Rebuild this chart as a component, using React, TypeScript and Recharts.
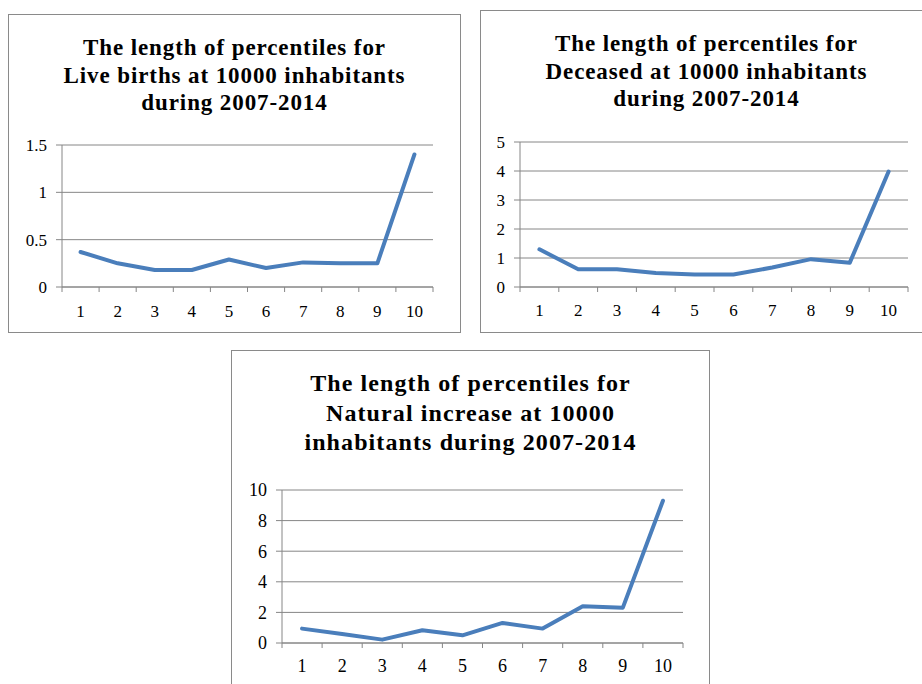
import { CartesianGrid, Line, LineChart, XAxis, YAxis } from "recharts"

// percentile groups shared by all three panels
const percentiles = ["1", "2", "3", "4", "5", "6", "7", "8", "9", "10"]

const liveBirths = [0.37, 0.25, 0.18, 0.18, 0.29, 0.2, 0.26, 0.25, 0.25, 1.4]
const deceased = [1.3, 0.61, 0.61, 0.48, 0.43, 0.43, 0.67, 0.96, 0.84, 3.98]
const naturalIncrease = [0.94, 0.59, 0.22, 0.83, 0.5, 1.31, 0.94, 2.4, 2.31, 9.3]

const liveBirthTicks = [0, 0.5, 1, 1.5]
const deceasedTicks = [0, 1, 2, 3, 4, 5]
const increaseTicks = [0, 2, 4, 6, 8, 10]

const GRAY = "#868686"
const BLUE = "#4a7ebb"
const SERIF = "'Liberation Serif', 'Times New Roman', serif"

type Rect = { x: number; y: number; w: number; h: number }
type Plot = { left: number; top: number; right: number; bottom: number }

type PanelProps = {
  title: string[]
  values: number[]
  yTicks: number[]
  box: Rect
  plot: Plot
  titleTop: number
  titleSize: number
  titleLine: number
  titleSpacing: number
  tickSize: number
  labelGap: number
}

const Y_AXIS_W = 50
const X_AXIS_H = 34
const X_TICK_LEN = 5
const X_TICK_MARGIN = 2

function Panel({
  title,
  values,
  yTicks,
  box,
  plot,
  titleTop,
  titleSize,
  titleLine,
  titleSpacing,
  tickSize,
  labelGap,
}: PanelProps) {
  // x axis is numeric over [0, n] so tick marks land on category edges,
  // each point sits in the middle of its slot
  const n = percentiles.length
  const data = percentiles.map((p, i) => ({ pos: i + 0.5, label: p, value: values[i] }))
  const edges = Array.from({ length: n + 1 }, (_, i) => i)
  const step = (plot.right - plot.left) / n

  const margin = {
    top: plot.top - box.y,
    left: plot.left - box.x - Y_AXIS_W,
    right: box.x + box.w - plot.right,
    bottom: box.y + box.h - plot.bottom - X_AXIS_H,
  }

  const CategoryTick = (props: any) => {
    const { x, y, payload } = props
    const i = payload.value
    if (i >= n) return <g />
    // y comes in just below the tick mark; shift to the label baseline
    const dy = labelGap + tickSize * 0.33 - X_TICK_LEN - X_TICK_MARGIN
    return (
      <text
        x={x + step / 2}
        y={y + dy}
        textAnchor="middle"
        fill="#000"
        fontSize={tickSize}
        fontFamily={SERIF}
      >
        {percentiles[i]}
      </text>
    )
  }

  return (
    <>
      <div
        style={{
          position: "absolute",
          left: box.x,
          top: box.y,
          width: box.w,
          height: box.h,
          border: "1px solid #8a8a8a",
          boxSizing: "border-box",
        }}
      />
      <div style={{ position: "absolute", left: box.x, top: box.y }}>
        <LineChart width={box.w} height={box.h} data={data} margin={margin}>
          <CartesianGrid stroke={GRAY} vertical={false} />
          <XAxis
            dataKey="pos"
            type="number"
            domain={[0, n]}
            ticks={edges}
            interval={0}
            height={X_AXIS_H}
            axisLine={{ stroke: GRAY }}
            tickLine={{ stroke: GRAY }}
            tickSize={X_TICK_LEN}
            tickMargin={X_TICK_MARGIN}
            tick={<CategoryTick />}
          />
          <YAxis
            type="number"
            domain={[0, yTicks[yTicks.length - 1]]}
            ticks={yTicks}
            interval={0}
            width={Y_AXIS_W}
            axisLine={{ stroke: GRAY }}
            tickLine={{ stroke: GRAY }}
            tickSize={6}
            tickMargin={9}
            tick={{ fill: "#000", fontSize: tickSize, fontFamily: SERIF }}
          />
          <Line
            type="linear"
            dataKey="value"
            stroke={BLUE}
            strokeWidth={4}
            strokeLinejoin="round"
            strokeLinecap="round"
            dot={false}
            isAnimationActive={false}
          />
        </LineChart>
      </div>
      <div
        style={{
          position: "absolute",
          left: box.x,
          top: box.y + titleTop,
          width: box.w,
          textAlign: "center",
          fontFamily: SERIF,
          fontWeight: "bold",
          fontSize: titleSize,
          lineHeight: `${titleLine}px`,
          letterSpacing: titleSpacing,
          color: "#000",
        }}
      >
        {title.map((t) => (
          <div key={t}>{t}</div>
        ))}
      </div>
    </>
  )
}

export default function App() {
  return (
    <div
      style={{
        position: "absolute",
        left: 0,
        top: 0,
        width: 922,
        height: 684,
        overflow: "hidden",
        background: "#fff",
      }}
    >
      <Panel
        title={["The length of percentiles for", "Live births at 10000 inhabitants", "during 2007-2014"]}
        values={liveBirths}
        yTicks={liveBirthTicks}
        box={{ x: 8, y: 14, w: 453, h: 319 }}
        plot={{ left: 62, top: 145, right: 433, bottom: 287 }}
        titleTop={20}
        titleSize={23}
        titleLine={27.5}
        titleSpacing={0.9}
        tickSize={17}
        labelGap={24.5}
      />
      <Panel
        title={["The length of percentiles for", "Deceased  at 10000 inhabitants", "during 2007-2014"]}
        values={deceased}
        yTicks={deceasedTicks}
        box={{ x: 480, y: 10, w: 453, h: 323 }}
        plot={{ left: 520, top: 142, right: 908, bottom: 287 }}
        titleTop={20}
        titleSize={23}
        titleLine={27.5}
        titleSpacing={0.9}
        tickSize={17}
        labelGap={23}
      />
      <Panel
        title={["The length of percentiles for", "Natural increase at 10000", "inhabitants during 2007-2014"]}
        values={naturalIncrease}
        yTicks={increaseTicks}
        box={{ x: 231, y: 350, w: 479, h: 360 }}
        plot={{ left: 282, top: 490, right: 683, bottom: 643 }}
        titleTop={19}
        titleSize={24}
        titleLine={29.5}
        titleSpacing={1.1}
        tickSize={18}
        labelGap={23.5}
      />
    </div>
  )
}
